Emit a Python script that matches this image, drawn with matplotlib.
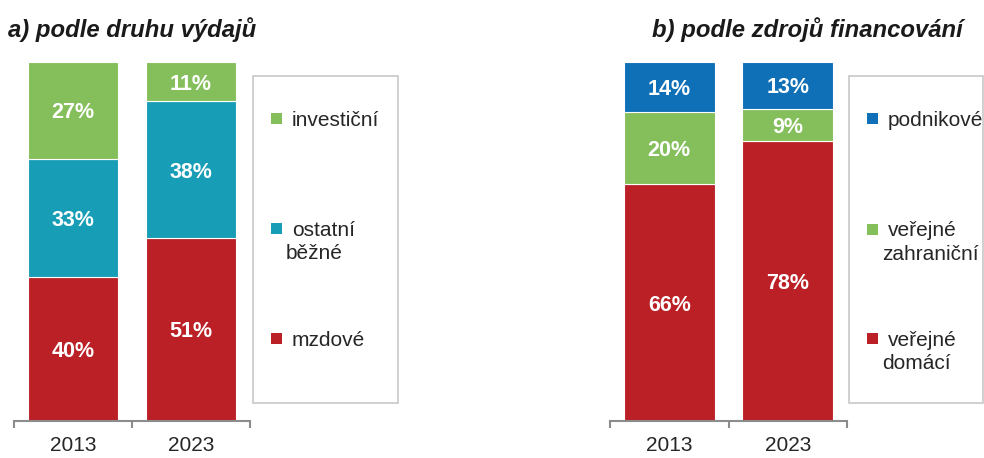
import matplotlib
matplotlib.use("Agg")
import matplotlib.pyplot as plt
from matplotlib.patches import Rectangle
import numpy as np

plt.rcParams["font.family"] = ["Liberation Sans", "DejaVu Sans"]

years = ["2013", "2023"]

# a) podle druhu vydaju (bottom -> top)
a_names = ["mzdové", "ostatní\nběžné", "investiční"]
a_values = [[40, 51], [33, 38], [27, 11]]

# b) podle zdroju financovani (bottom -> top)
b_names = ["veřejné\ndomácí", "veřejné\nzahraniční", "podnikové"]
b_values = [[66, 78], [20, 9], [14, 13]]

red = "#BA2025"
teal = "#189DB6"
green = "#85BF5C"
blue = "#0F6FB7"
a_colors = [red, teal, green]
b_colors = [red, green, blue]

W, H = 984, 458
fig = plt.figure(figsize=(W / 100, H / 100), dpi=100)
txt = "#262626"
grey = "#8c8c8c"


def stacked(left_px, width_px, values, colors):
    ax = fig.add_axes([left_px / W, 37 / H, width_px / W, 359 / H])
    x = np.arange(len(years))
    bottom = np.zeros(len(years))
    for vals, c in zip(values, colors):
        vals = np.array(vals, dtype=float)
        ax.bar(x, vals, 0.77, bottom=bottom, color=c, edgecolor="white", linewidth=0.8)
        for xi, b, v in zip(x, bottom, vals):
            ax.text(xi, b + v / 2, f"{v:.0f}%", ha="center", va="center_baseline",
                    color="white", fontsize=15.5, fontweight="bold")
        bottom += vals
    ax.set_xlim(-0.5, 1.5)
    ax.set_ylim(0, 100)
    for s in ["top", "left", "right"]:
        ax.spines[s].set_visible(False)
    ax.spines["bottom"].set_color(grey)
    ax.spines["bottom"].set_linewidth(1.5)
    ax.set_yticks([])
    ax.set_xticks([-0.5, 0.5, 1.5])
    ax.set_xticklabels([])
    ax.tick_params(axis="x", which="major", length=5, width=1.5, color=grey)
    ax.set_xticks(x, minor=True)
    ax.set_xticklabels(years, minor=True, fontsize=15, color=txt)
    ax.tick_params(axis="x", which="minor", length=0, pad=11)
    return ax


stacked(14, 236, a_values, a_colors)
stacked(610, 237, b_values, b_colors)

# overlay in pixel coordinates for titles and legend boxes
ov = fig.add_axes([0, 0, 1, 1])
ov.set_xlim(0, W)
ov.set_ylim(H, 0)
ov.axis("off")

ov.text(8, 27, "a) podle druhu výdajů", fontsize=17.2, fontweight="bold",
        fontstyle="italic", color="#1a1a1a", va="center_baseline", ha="left")
ov.text(652, 27, "b) podle zdrojů financování", fontsize=17.2, fontweight="bold",
        fontstyle="italic", color="#1a1a1a", va="center_baseline", ha="left")


def legend_box(x0, x1, names, colors, ys):
    ov.add_patch(Rectangle((x0, 76), x1 - x0, 327, facecolor="white",
                           edgecolor="#c8c8c8", linewidth=1.2))
    for name, c, y in zip(names[::-1], colors[::-1], ys):
        ov.add_patch(Rectangle((x0 + 18, y - 5.5), 11, 11, facecolor=c, edgecolor="none"))
        lines = name.split("\n")
        ov.text(x0 + 39, y, lines[0], fontsize=15, color=txt, va="center_baseline", ha="left")
        for i, ln in enumerate(lines[1:], 1):
            ov.text(x0 + 33, y + 23.5 * i, ln, fontsize=15, color=txt,
                    va="center_baseline", ha="left")


legend_box(253, 398, a_names, a_colors, [118, 228, 338])
legend_box(849, 983, b_names, b_colors, [118, 229, 338])

fig.savefig("out.png", dpi=100)
